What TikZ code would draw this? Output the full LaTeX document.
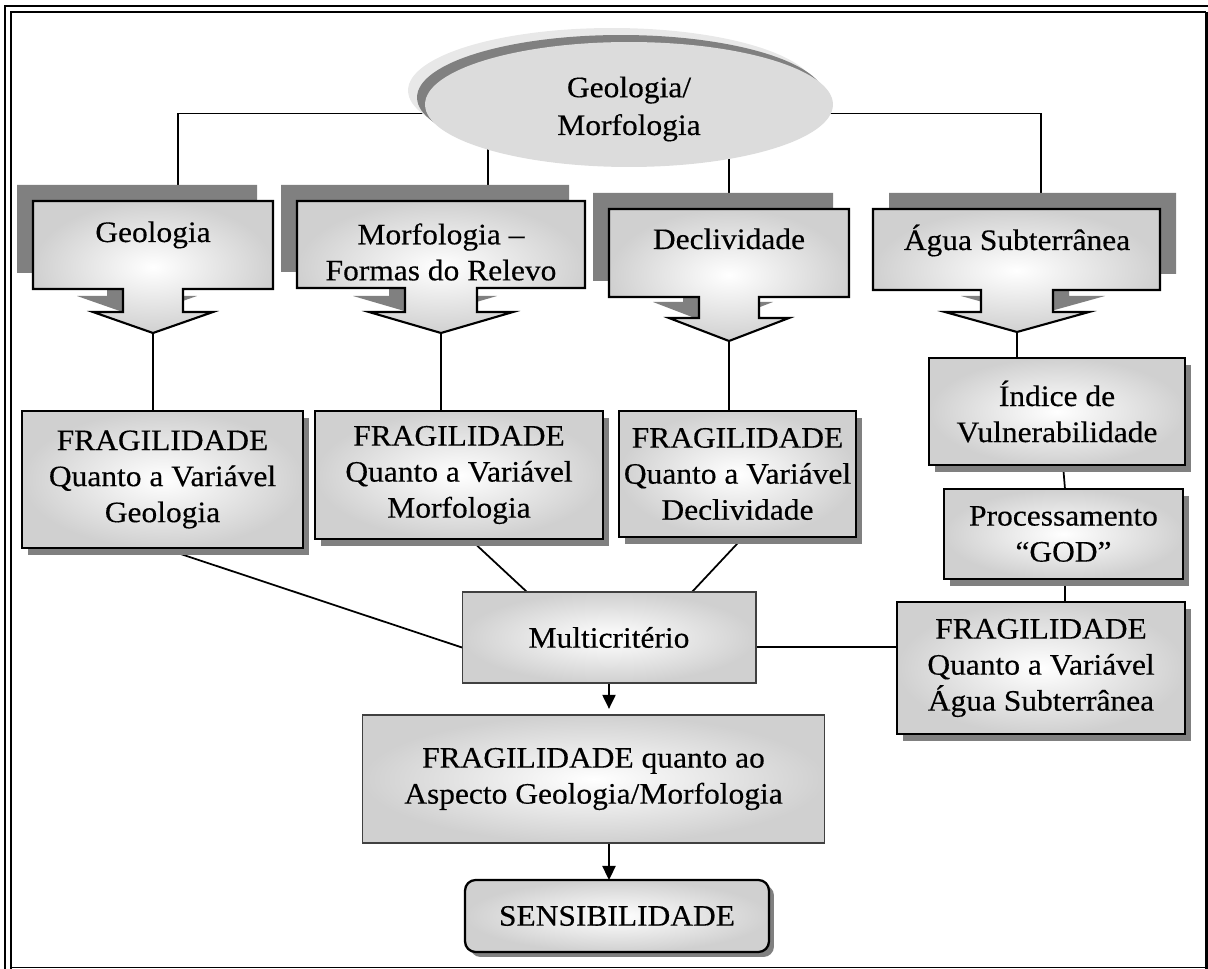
\documentclass[tikz,border=0pt]{standalone}
\usepackage{fontspec}
\setmainfont{Liberation Serif}[FakeStretch=1.06, FakeBold=0.35]
\usetikzlibrary{calc,shapes.geometric,arrows.meta}
\pgfdeclarelayer{lines}
\pgfdeclarelayer{shadows}
\pgfsetlayers{lines,shadows,main}
\definecolor{shadowgray}{HTML}{808080}
\definecolor{ellfill}{HTML}{DCDCDC}
\definecolor{elllight}{HTML}{E8E8E8}
\definecolor{edgegray}{HTML}{D0D0D0}

\tikzset{
  lbl/.style={font=\fontsize{16.9pt}{20.5pt}\selectfont, align=center, inner sep=0pt},
  grad/.style={inner color=white, outer color=edgegray},
  pbox/.style={lbl, draw=black, line width=1.2pt, grad, outer sep=0pt},
  fbox/.style={lbl, draw=black!75, line width=0.6pt, grad, outer sep=0pt},
  callout/.style={draw=black, line width=1.2pt, grad},
  calloutshadow/.style={fill=shadowgray},
  conn/.style={line width=1pt, draw=black},
  arr/.style={conn, -{Triangle[width=7.5pt,length=8pt]}},
  frameline/.style={line width=1.1pt}
}

% #1 style, #2 centre x, #3 left, #4 right, #5 top, #6 bottom,
% #7 half width of the stem, #8 foot of the stem, #9 tip of the arrow
\newcommand\callout[9]{%
  \path[#1] (#3,#5) -- (#4,#5) -- (#4,#6) -- ({#2+#7},#6) -- ({#2+#7},#8)
    -- ({#2+2*#7},#8) -- (#2,#9) -- ({#2-2*#7},#8) -- ({#2-#7},#8)
    -- ({#2-#7},#6) -- (#3,#6) -- cycle;}

% drop shadow behind a rectangular node: name, x offset, y offset
\newcommand\boxshadow[3]{%
  \fill[shadowgray] ([shift={(#2,#3)}]#1.south west) rectangle ([shift={(#2,#3)}]#1.north east);}

\begin{document}
\begin{tikzpicture}[x=0.02cm, y=-0.02cm]
\useasboundingbox (0,0) rectangle (1208,969);

% page frame
\draw[frameline] (5,969) -- (5,6) -- (1208,6);
\draw[frameline] (11,969) -- (11,12) -- (1206,12);
\draw[line width=1.7pt] (1206,12) -- (1206,969);
\draw[frameline] (11,967.5) -- (1208,967.5);

% top ellipse with its layered shadow
\fill[elllight] (612,90.5) ellipse [x radius=4.08cm, y radius=1.25cm];
\fill[shadowgray] (621,97.5) ellipse [x radius=4.08cm, y radius=1.25cm];
\node[ellipse, fill=ellfill, minimum width=8.16cm, minimum height=2.5cm, inner sep=0pt] (top) at (629,104.5) {};
\node[lbl, font=\fontsize{16.9pt}{21.5pt}\selectfont] (toptext) at (629,109) {Geologia/\\Morfologia};

% arrow callouts
\begin{pgfonlayer}{shadows}
  \callout{calloutshadow, shift={(-16,-16)}}{153}{33}{273}{201}{289}{30}{312}{333}
  \callout{calloutshadow, shift={(-16,-16)}}{441}{297}{585}{201}{288}{36}{312}{333}
  \callout{calloutshadow, shift={(-16,-16)}}{729}{609}{849}{209}{297}{30}{318}{341}
  \callout{calloutshadow, shift={(16,-16)}}{1017}{873}{1160}{209}{290}{36}{312}{332}
\end{pgfonlayer}
\callout{callout}{153}{33}{273}{201}{289}{30}{312}{333}
\callout{callout}{441}{297}{585}{201}{288}{36}{312}{333}
\callout{callout}{729}{609}{849}{209}{297}{30}{318}{341}
\callout{callout}{1017}{873}{1160}{209}{290}{36}{312}{332}

\node[lbl, anchor=base] (geo) at (153,242) {Geologia};
\node[lbl] (morf) at (441,252) {Morfologia –\\Formas do Relevo};
\node[lbl, anchor=base] (decl) at (729,249) {Declividade};
\node[lbl, anchor=base] (agua) at (1017,250) {Água Subterrânea};

\coordinate (geo-in) at (178,201);
\coordinate (morf-in) at (488,201);
\coordinate (decl-in) at (729,209);
\coordinate (agua-in) at (1041,209);
\coordinate (geo-tip) at (153,333);
\coordinate (morf-tip) at (441,333);
\coordinate (decl-tip) at (729,341);
\coordinate (agua-tip) at (1017,332);

% boxes
\node[pbox, minimum width=5.62cm, minimum height=2.74cm] (fgeo) at (162.5,479.5) {FRAGILIDADE\\Quanto a Variável\\Geologia};
\node[pbox, minimum width=5.76cm, minimum height=2.56cm] (fmorf) at (459,475) {FRAGILIDADE\\Quanto a Variável\\Morfologia};
\node[pbox, minimum width=4.74cm, minimum height=2.52cm] (fdecl) at (737.5,474) {FRAGILIDADE\\Quanto a Variável\\Declividade};
\node[pbox, minimum width=5.12cm, minimum height=2.14cm] (indice) at (1057,411.5) {Índice de\\Vulnerabilidade};
\node[pbox, minimum width=4.78cm, minimum height=1.8cm] (proc) at (1063.5,534) {Processamento\\“GOD”};
\node[pbox, minimum width=5.76cm, minimum height=2.64cm] (fagua) at (1041,668) {FRAGILIDADE\\Quanto a Variável\\Água Subterrânea};
\node[fbox, minimum width=5.88cm, minimum height=1.82cm] (multi) at (609,637.5) {Multicritério};
\node[fbox, minimum width=9.26cm, minimum height=2.56cm] (quanto) at (593.5,779) {FRAGILIDADE quanto ao\\Aspecto Geologia/Morfologia};
\node[pbox, rounded corners=6pt, line width=1.3pt, minimum width=6.08cm, minimum height=1.44cm] (sens) at (617,916) {SENSIBILIDADE};

\begin{pgfonlayer}{shadows}
  \boxshadow{fgeo}{6}{7}
  \boxshadow{fmorf}{6}{7}
  \boxshadow{fdecl}{6}{7}
  \boxshadow{indice}{6}{7}
  \boxshadow{proc}{6}{7}
  \boxshadow{fagua}{6}{7}
  \fill[shadowgray, rounded corners=6pt] ([shift={(5,5)}]sens.south west) rectangle ([shift={(5,5)}]sens.north east);
\end{pgfonlayer}

% connectors
\begin{pgfonlayer}{lines}
  \draw[conn] ($(top.center)+(0,9)$) -| (geo-in);
  \draw[conn] ($(top.center)+(0,9)$) -| (agua-in);
  \draw[conn] (morf-in) -- (morf-in |- top.center);
  \draw[conn] (decl-in) -- (decl-in |- top.center);
  \draw[conn] (geo-tip) -- (geo-tip |- fgeo.north);
  \draw[conn] (morf-tip) -- (morf-tip |- fmorf.north);
  \draw[conn] (decl-tip) -- (decl-tip |- fdecl.north);
  \draw[conn] (agua-tip) -- (agua-tip |- indice.north);
  \draw[conn] ($(indice.south)+(6,0)$) -- ($(proc.north)+(1.5,0)$);
  \draw[conn] ($(proc.south)+(1.5,0)$) coordinate (pf) -- (pf |- fagua.north);
  \draw[conn] (fgeo.south) -- ($(multi.west)+(0,10)$);
  \draw[conn] ($(fmorf.south)+(11,0)$) -- ($(multi.north)+(-82,0)$);
  \draw[conn] ($(fdecl.south)+(6,0)$) -- ($(multi.north)+(83,0)$);
  \draw[conn] ($(multi.east)+(0,9.5)$) coordinate (mr) -- (mr -| fagua.west);
  \draw[arr, shorten >=3.5pt] (multi.south) -- (multi.south |- quanto.north);
  \draw[arr] (quanto.south -| multi.south) -- (sens.north -| multi.south);
\end{pgfonlayer}
\end{tikzpicture}
\end{document}
